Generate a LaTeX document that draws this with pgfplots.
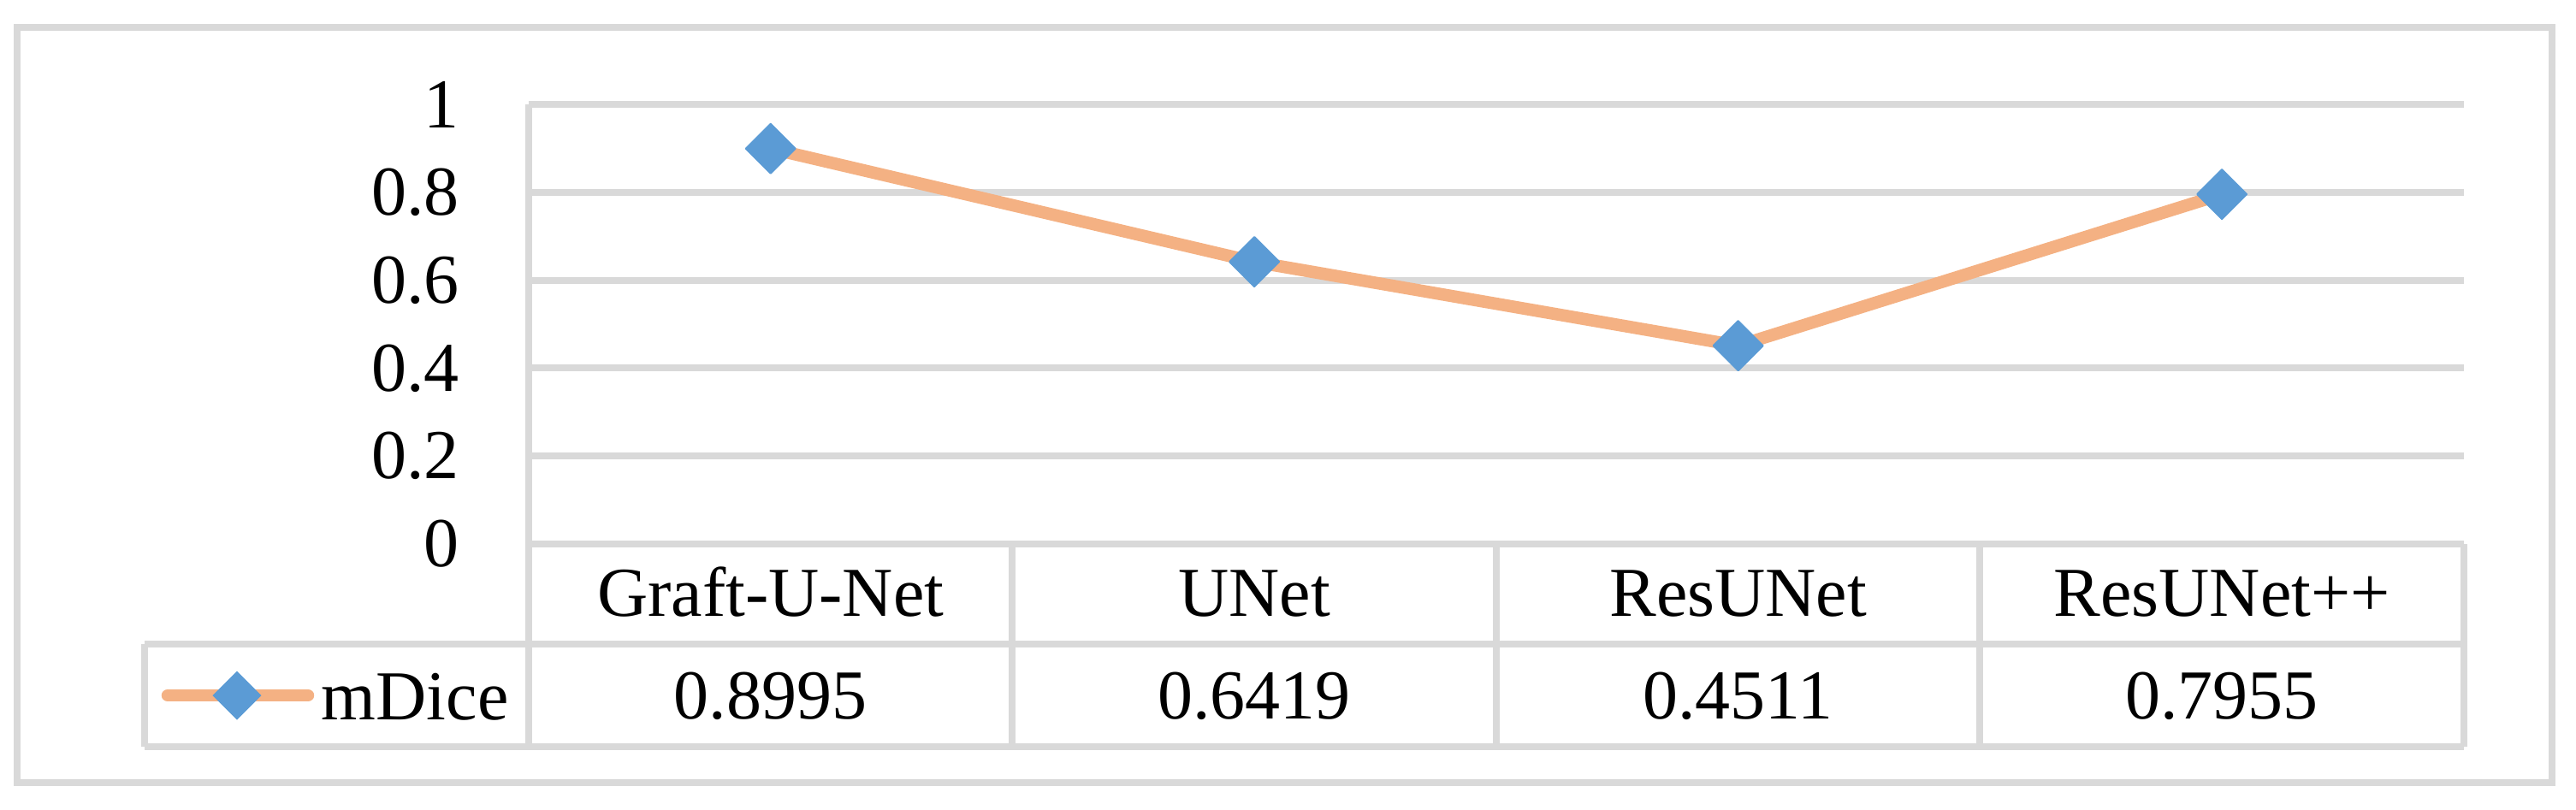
\documentclass[border=0pt]{standalone}
\usepackage{pgfplots}
\pgfplotsset{compat=1.18}
\usepackage{fontspec}
\setmainfont{Liberation Serif}

\definecolor{gridgray}{HTML}{D9D9D9}
\definecolor{lineorange}{HTML}{F4B183}
\definecolor{markblue}{HTML}{5B9BD5}

\newcommand{\chartfont}{\fontsize{8.2}{9.8}\selectfont}

\begin{document}
\begin{tikzpicture}[font=\chartfont]
% page size
\path[use as bounding box] (0,0) rectangle (301.1pt,94.6pt);
% chart border
\draw[gridgray, line width=0.8pt] (2.0pt,3.1pt) rectangle (298.3pt,91.4pt);

\begin{axis}[
    at={(61.8pt,31.0pt)},
    anchor=south west,
    scale only axis,
    width=226.2pt,
    height=51.4pt,
    xmin=-0.5, xmax=3.5,
    ymin=0, ymax=1,
    xtick={0,1,2,3},
    xticklabels={Graft-U-Net,UNet,ResUNet,ResUNet++},
    ytick={0,0.2,0.4,0.6,0.8,1},
    axis line style={draw=none},
    major tick style={draw=none},
    ymajorgrids,
    grid style={gridgray, line width=0.8pt},
    /pgf/number format/assume math mode=true,
    ticklabel style={font=\chartfont},
    yticklabel style={xshift=-4.6pt},
    xticklabel style={anchor=base, yshift=-8.4pt},
    clip=false,
]
\addplot[lineorange, line width=1.45pt, line join=round,
    mark=square*, mark size=2.05pt,
    mark options={rotate=45, fill=markblue, draw=markblue, line width=0.2pt, line join=round}]
    coordinates {(0,0.8995) (1,0.6419) (2,0.4511) (3,0.7955)};

% values in the data table
\node[anchor=base, yshift=-20.4pt] at (axis cs:0,0) {0.8995};
\node[anchor=base, yshift=-20.4pt] at (axis cs:1,0) {0.6419};
\node[anchor=base, yshift=-20.4pt] at (axis cs:2,0) {0.4511};
\node[anchor=base, yshift=-20.4pt] at (axis cs:3,0) {0.7955};
\end{axis}

% data table lines
\begin{scope}[gridgray, line width=0.8pt]
\draw (61.8pt,82.4pt) -- (61.8pt,7.3pt);
\draw (16.9pt,19.3pt) -- (288.0pt,19.3pt);
\draw (16.9pt,7.3pt) -- (288.0pt,7.3pt);
\draw (16.9pt,19.3pt) -- (16.9pt,7.3pt);
\draw (118.35pt,31.0pt) -- (118.35pt,7.3pt);
\draw (174.9pt,31.0pt) -- (174.9pt,7.3pt);
\draw (231.45pt,31.0pt) -- (231.45pt,7.3pt);
\draw (288.0pt,31.0pt) -- (288.0pt,7.3pt);
\end{scope}

% legend key in the table
\draw[lineorange, line width=1.45pt, line cap=round] (19.6pt,13.3pt) -- (36.0pt,13.3pt);
\fill[markblue] (27.7pt,16.15pt) -- (30.55pt,13.3pt) -- (27.7pt,10.45pt) -- (24.85pt,13.3pt) -- cycle;
\node[anchor=base west, inner sep=0pt] at (37.4pt,10.5pt) {mDice};
\end{tikzpicture}
\end{document}
